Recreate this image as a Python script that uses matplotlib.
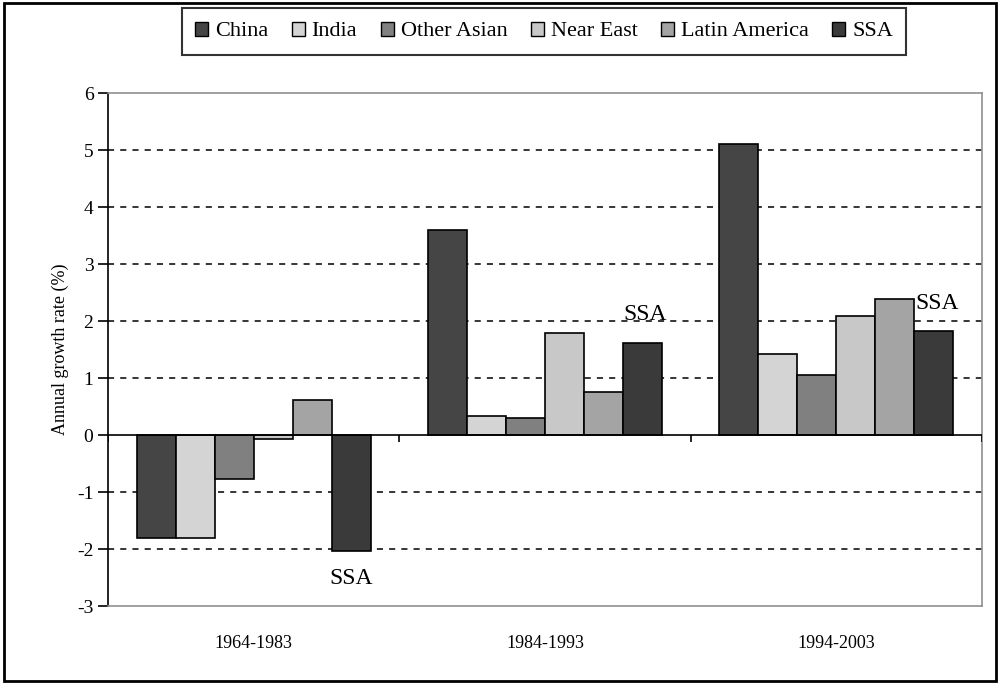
import numpy as np
import matplotlib.pyplot as plt
from matplotlib.patches import Rectangle

plt.rcParams['font.family'] = ['Liberation Serif', 'DejaVu Serif']
plt.rcParams['axes.unicode_minus'] = False

# Annual growth rates (%) by region and period
periods = ['1964-1983', '1984-1993', '1994-2003']
regions = ['China', 'India', 'Other Asian', 'Near East', 'Latin America', 'SSA']
china = [-1.8, 3.6, 5.1]
india = [-1.8, 0.33, 1.42]
other_asian = [-0.77, 0.3, 1.05]
near_east = [-0.07, 1.79, 2.09]
latin_america = [0.61, 0.75, 2.39]
ssa = [-2.03, 1.62, 1.82]

series = [china, india, other_asian, near_east, latin_america, ssa]
colors = ['#454545', '#d4d4d4', '#808080', '#c8c8c8', '#a4a4a4', '#3a3a3a']

fig = plt.figure(figsize=(10, 6.84), dpi=100)
ax = fig.add_axes([0.108, 0.114, 0.874, 0.750])

x = np.arange(len(periods))
width = 0.134
for i, (vals, col, name) in enumerate(zip(series, colors, regions)):
    ax.bar(x + (i - 2.5) * width, vals, width, color=col, edgecolor='black',
           linewidth=1.2, label=name, zorder=3)

# label the SSA bar in each period
ssa_x = x + 2.5 * width
for xi, v in zip(ssa_x, ssa):
    off = 20 if v > 0 else -20
    ax.annotate('SSA', (xi, v), xytext=(2 if v > 0 else 0, off),
                textcoords='offset points', ha='center', va='center',
                fontsize=17, zorder=4)

ax.set_xlim(-0.5, 2.5)
ax.set_ylim(-3, 6)
ax.set_yticks(range(-3, 7))
ax.tick_params(axis='y', labelsize=14, length=7, width=1.2, direction='out')
ax.set_xticks(x)
ax.set_xticklabels(periods, fontsize=13)
ax.tick_params(axis='x', length=0, pad=21)
ax.set_ylabel('Annual growth rate (%)', fontsize=13, labelpad=6)

for yv in [-2, -1, 1, 2, 3, 4, 5]:
    ax.axhline(yv, color='black', linestyle=(0, (4, 4)), linewidth=1.1, zorder=1)

# zero axis with category separators
ax.axhline(0, color='black', linewidth=1.2, zorder=4)
ax.vlines(np.arange(len(periods) + 1) - 0.5, -0.13, 0, color='black', linewidth=1.2, zorder=4)

ax.spines['left'].set_color('black')
ax.spines['left'].set_linewidth(1.2)
for side in ['top', 'right', 'bottom']:
    ax.spines[side].set_color('#909090')
    ax.spines[side].set_linewidth(1.2)

leg = fig.legend(loc='upper center', bbox_to_anchor=(0.544, 0.988), ncol=6,
                 fontsize=16, frameon=True, fancybox=False, handlelength=0.6,
                 handleheight=0.6, handletextpad=0.3, columnspacing=1.05,
                 borderpad=0.6, borderaxespad=0)
leg.get_frame().set_edgecolor('black')
leg.get_frame().set_linewidth(1.5)
for h in leg.legend_handles:
    h.set_linewidth(1.0)

fig.patches.append(Rectangle((0.004, 0.005), 0.992, 0.99, transform=fig.transFigure,
                             fill=False, edgecolor='black', linewidth=2))

fig.savefig('out.png', dpi=100)
